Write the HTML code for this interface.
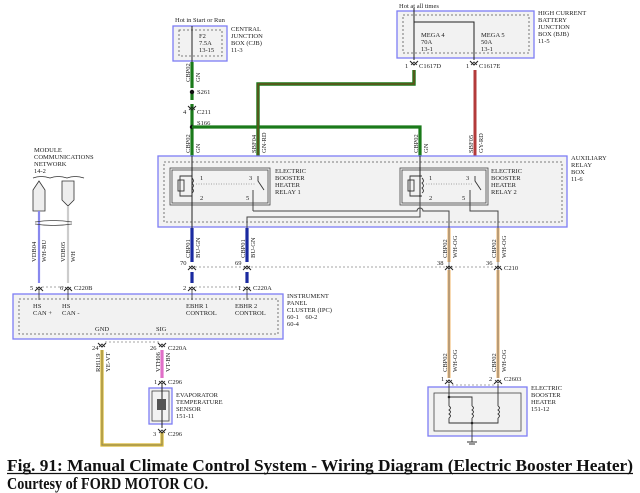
<!DOCTYPE html>
<html><head><meta charset="utf-8"><style>
html,body{margin:0;padding:0;background:#fff;width:640px;height:493px;overflow:hidden}
svg{display:block}
.t{font-family:"Liberation Serif",serif;font-size:6.5px;fill:#222}
.cap{font-family:"Liberation Serif",serif;font-weight:bold;font-size:17px;fill:#111}
</style></head><body>
<svg width="640" height="493" viewBox="0 0 640 493" xmlns="http://www.w3.org/2000/svg">
<defs>
<g id="cd"><path d="M-4,-3 L0,1 L4,-3" fill="none" stroke="#222" stroke-width="1"/><path d="M-3,1 L0,-2 L3,1" fill="none" stroke="#222" stroke-width="0.8"/></g>
<g id="cu"><path d="M-4,3 L0,-1 L4,3" fill="none" stroke="#222" stroke-width="1"/><path d="M-3,-1 L0,2 L3,-1" fill="none" stroke="#222" stroke-width="0.8"/></g>
</defs>

<!-- CJB -->
<text class="t" x="175" y="22">Hot in Start or Run</text>
<rect x="173" y="26" width="54" height="35" fill="#f2f2f2" stroke="#7d7df5" stroke-width="1.3"/>
<rect x="179" y="30" width="43" height="26" fill="none" stroke="#555" stroke-dasharray="2,2" stroke-width="0.8"/>
<line x1="192" y1="26" x2="192" y2="62" stroke="#222" stroke-width="1"/>
<text class="t" x="199" y="38">F2</text><text class="t" x="199" y="45">7.5A</text><text class="t" x="199" y="52">13-15</text>
<text class="t" x="231" y="31">CENTRAL</text><text class="t" x="231" y="38">JUNCTION</text><text class="t" x="231" y="45">BOX (CJB)</text><text class="t" x="231" y="52">11-3</text>

<!-- HCBJB -->
<text class="t" x="399" y="8">Hot at all times</text>
<rect x="397" y="11" width="137" height="47" fill="#f2f2f2" stroke="#7d7df5" stroke-width="1.3"/>
<rect x="403" y="15" width="126" height="38" fill="none" stroke="#555" stroke-dasharray="2,2" stroke-width="0.8"/>
<path d="M414,8 V60 M414,22 H474 V60" fill="none" stroke="#222" stroke-width="1"/>
<text class="t" x="421" y="37">MEGA 4</text><text class="t" x="421" y="44">70A</text><text class="t" x="421" y="51">13-1</text>
<text class="t" x="481" y="37">MEGA 5</text><text class="t" x="481" y="44">50A</text><text class="t" x="481" y="51">13-1</text>
<text class="t" x="538" y="15">HIGH CURRENT</text><text class="t" x="538" y="22">BATTERY</text><text class="t" x="538" y="29">JUNCTION</text><text class="t" x="538" y="36">BOX (BJB)</text><text class="t" x="538" y="43">11-5</text>
<use href="#cd" x="414" y="64"/><use href="#cd" x="474" y="64"/>
<text class="t" x="405" y="68">1</text><text class="t" x="419" y="68">C1617D</text>
<text class="t" x="466" y="68">1</text><text class="t" x="479" y="68">C1617E</text>

<!-- green wires -->
<line x1="192" y1="62" x2="192" y2="156" stroke="#1a7a1a" stroke-width="3.2"/>
<line x1="192" y1="88" x2="192" y2="92" stroke="#fff" stroke-width="4"/>
<line x1="192" y1="100" x2="192" y2="104" stroke="#fff" stroke-width="4"/>
<circle cx="192" cy="92" r="2.2" fill="#111"/><text class="t" x="197" y="94">S261</text>
<use href="#cd" x="192" y="109"/><text class="t" x="183" y="114">4</text><text class="t" x="197" y="114">C211</text>
<circle cx="192" cy="127" r="2.2" fill="#111"/><text class="t" x="197" y="125">S166</text>
<path d="M192,127 H420 V156" fill="none" stroke="#1a7a1a" stroke-width="3.2"/>
<path d="M258,156 V84 H414 V70" fill="none" stroke="#1a7a1a" stroke-width="3.4"/>
<path d="M258,156 V84 H414 V70" fill="none" stroke="#8a3a1a" stroke-width="1"/>
<line x1="475" y1="70" x2="475" y2="156" stroke="#b33a3a" stroke-width="3"/>
<g class="t" font-size="6">
<text transform="translate(190,82) rotate(-90)">CBP02</text><text transform="translate(200,82) rotate(-90)">GN</text>
<text transform="translate(190,153) rotate(-90)">CBP02</text><text transform="translate(200,153) rotate(-90)">GN</text>
<text transform="translate(256,153) rotate(-90)">SBF04</text><text transform="translate(266,153) rotate(-90)">GN-RD</text>
<text transform="translate(418,153) rotate(-90)">CBP02</text><text transform="translate(428,153) rotate(-90)">GN</text>
<text transform="translate(473,153) rotate(-90)">SBF05</text><text transform="translate(483,153) rotate(-90)">GY-RD</text>
</g>

<!-- Aux relay box -->
<rect x="158" y="156" width="409" height="71" fill="#f2f2f2" stroke="#7d7df5" stroke-width="1.3"/>
<rect x="164" y="162" width="398" height="60" fill="none" stroke="#555" stroke-dasharray="2,2" stroke-width="0.8"/>
<text class="t" x="571" y="160">AUXILIARY</text><text class="t" x="571" y="167">RELAY</text><text class="t" x="571" y="174">BOX</text><text class="t" x="571" y="181">11-6</text>
<g fill="none" stroke="#444" stroke-width="0.8">
<rect x="170" y="168" width="100" height="37"/><rect x="172" y="170" width="96" height="33"/>
<rect x="400" y="168" width="88" height="37"/><rect x="402" y="170" width="84" height="33"/>
</g>
<g fill="none" stroke="#333" stroke-width="0.9">
<path d="M192,176 H180 V196 H192"/><rect x="178" y="180" width="6" height="11"/>
<path d="M422,176 H410 V196 H422"/><rect x="408" y="180" width="6" height="11"/>
<path d="M192,178 q3,3 0,5 q3,3 0,5 q3,3 0,5"/><path d="M422,178 q3,3 0,5 q3,3 0,5 q3,3 0,5"/>
<path d="M258,176 V181 L264,190 M253,190 V211"/>
<path d="M475,176 V181 L481,190 M470,190 V211"/>
</g>
<line x1="196" y1="184" x2="256" y2="184" stroke="#888" stroke-dasharray="1,1.5" stroke-width="0.7"/>
<line x1="426" y1="184" x2="472" y2="184" stroke="#888" stroke-dasharray="1,1.5" stroke-width="0.7"/>
<line x1="192" y1="156" x2="192" y2="228" stroke="#222" stroke-width="1"/>
<line x1="420" y1="156" x2="420" y2="197" stroke="#222" stroke-width="1"/>
<path d="M253,211 H417 a3,3 0 0 1 6,0 H449 V230 M470,211 V211 M470,190 V211 H498 V230 M420,197 V217 H247 V230" fill="none" stroke="#444" stroke-width="1"/>
<text class="t" x="200" y="180">1</text><text class="t" x="200" y="200">2</text><text class="t" x="249" y="180">3</text><text class="t" x="246" y="200">5</text>
<text class="t" x="429" y="180">1</text><text class="t" x="429" y="200">2</text><text class="t" x="466" y="180">3</text><text class="t" x="462" y="200">5</text>
<text class="t" x="275" y="173">ELECTRIC</text><text class="t" x="275" y="180">BOOSTER</text><text class="t" x="275" y="187">HEATER</text><text class="t" x="275" y="194">RELAY 1</text>
<text class="t" x="491" y="173">ELECTRIC</text><text class="t" x="491" y="180">BOOSTER</text><text class="t" x="491" y="187">HEATER</text><text class="t" x="491" y="194">RELAY 2</text>

<!-- Below relay box -->
<line x1="192" y1="228" x2="192" y2="262" stroke="#1a2aa0" stroke-width="3.2"/>
<line x1="247" y1="228" x2="247" y2="262" stroke="#1a2aa0" stroke-width="3.2"/>
<line x1="192" y1="272" x2="192" y2="283" stroke="#1a2aa0" stroke-width="3.2"/>
<line x1="247" y1="272" x2="247" y2="283" stroke="#1a2aa0" stroke-width="3.2"/>
<g stroke="#f2c080" stroke-width="3.2"><line x1="449" y1="228" x2="449" y2="262"/><line x1="498" y1="228" x2="498" y2="262"/><line x1="449" y1="270" x2="449" y2="378"/><line x1="498" y1="270" x2="498" y2="378"/></g>
<g stroke="#666" stroke-width="0.8"><line x1="449" y1="228" x2="449" y2="378"/><line x1="498" y1="228" x2="498" y2="378"/></g>
<line x1="195" y1="267" x2="495" y2="267" stroke="#888" stroke-dasharray="2,2" stroke-width="0.8"/>
<use href="#cu" x="192" y="267"/><use href="#cu" x="247" y="267"/><use href="#cu" x="449" y="267"/><use href="#cu" x="498" y="267"/>
<text class="t" x="180" y="265">70</text><text class="t" x="235" y="265">69</text><text class="t" x="437" y="265">38</text><text class="t" x="486" y="265">36</text><text class="t" x="504" y="270">C210</text>
<g class="t" font-size="6">
<text transform="translate(190,258) rotate(-90)">CBP01</text><text transform="translate(200,258) rotate(-90)">BU-GN</text>
<text transform="translate(245,258) rotate(-90)">CBP01</text><text transform="translate(255,258) rotate(-90)">BU-GN</text>
<text transform="translate(447,258) rotate(-90)">CBP02</text><text transform="translate(457,258) rotate(-90)">WH-OG</text>
<text transform="translate(496,258) rotate(-90)">CBP02</text><text transform="translate(506,258) rotate(-90)">WH-OG</text>
<text transform="translate(447,372) rotate(-90)">CBP02</text><text transform="translate(457,372) rotate(-90)">WH-OG</text>
<text transform="translate(496,372) rotate(-90)">CBP02</text><text transform="translate(506,372) rotate(-90)">WH-OG</text>
</g>

<!-- Module network -->
<text class="t" x="34" y="152">MODULE</text><text class="t" x="34" y="159">COMMUNICATIONS</text><text class="t" x="34" y="166">NETWORK</text><text class="t" x="34" y="173">14-2</text>
<path d="M33,178 q8,-3 17,0 q8,-3 17,0 q8,-3 17,0" fill="none" stroke="#333" stroke-width="0.8"/>
<path d="M33,190 L39,181 L45,190 V211 H33 Z" fill="#eee" stroke="#333" stroke-width="0.8"/>
<path d="M62,181 H74 V200 L68,206 L62,200 Z" fill="#eee" stroke="#333" stroke-width="0.8"/>
<line x1="39" y1="211" x2="39" y2="283" stroke="#8888ee" stroke-width="2.2"/>
<line x1="68" y1="206" x2="68" y2="283" stroke="#ccc" stroke-width="2.2"/>
<path d="M35,222 q18,-3 37,0 M35,224 q18,3 37,0" fill="none" stroke="#444" stroke-width="0.8"/>
<g class="t" font-size="6">
<text transform="translate(36,262) rotate(-90)">VDB04</text><text transform="translate(46,262) rotate(-90)">WH-BU</text>
<text transform="translate(65,262) rotate(-90)">VDB05</text><text transform="translate(75,262) rotate(-90)">WH</text>
</g>
<use href="#cu" x="39" y="288"/><use href="#cu" x="68" y="288"/>
<text class="t" x="30" y="290">5</text><text class="t" x="60" y="290">6</text><text class="t" x="74" y="290">C220B</text>
<line x1="42" y1="287" x2="65" y2="287" stroke="#888" stroke-dasharray="2,2" stroke-width="0.8"/>
<use href="#cu" x="192" y="288"/><use href="#cu" x="247" y="288"/>
<text class="t" x="183" y="290">2</text><text class="t" x="238" y="290">1</text><text class="t" x="253" y="290">C220A</text>
<line x1="195" y1="287" x2="244" y2="287" stroke="#888" stroke-dasharray="2,2" stroke-width="0.8"/>

<!-- IPC -->
<rect x="13" y="294" width="270" height="45" fill="#f2f2f2" stroke="#7d7df5" stroke-width="1.3"/>
<rect x="19" y="299" width="259" height="35" fill="none" stroke="#555" stroke-dasharray="2,2" stroke-width="0.8"/>
<g stroke="#333" stroke-width="0.8"><line x1="39" y1="290" x2="39" y2="300"/><line x1="68" y1="290" x2="68" y2="300"/><line x1="192" y1="290" x2="192" y2="300"/><line x1="247" y1="290" x2="247" y2="300"/></g>
<text class="t" x="33" y="308">HS</text><text class="t" x="33" y="315">CAN +</text>
<text class="t" x="62" y="308">HS</text><text class="t" x="62" y="315">CAN -</text>
<text class="t" x="186" y="308">EBHR 1</text><text class="t" x="186" y="315">CONTROL</text>
<text class="t" x="235" y="308">EBHR 2</text><text class="t" x="235" y="315">CONTROL</text>
<text class="t" x="95" y="331">GND</text><text class="t" x="156" y="331">SIG</text>
<text class="t" x="287" y="298">INSTRUMENT</text><text class="t" x="287" y="305">PANEL</text><text class="t" x="287" y="312">CLUSTER (IPC)</text><text class="t" x="287" y="319">60-1&#160;&#160;&#160; 60-2</text><text class="t" x="287" y="326">60-4</text>

<!-- GND/SIG -->
<use href="#cd" x="102" y="346"/><use href="#cd" x="162" y="346"/>
<line x1="105" y1="342" x2="159" y2="342" stroke="#888" stroke-dasharray="2,2" stroke-width="0.8"/>
<text class="t" x="92" y="350">24</text><text class="t" x="150" y="350">26</text><text class="t" x="168" y="350">C220A</text>
<path d="M102,350 V445 H162 V432" fill="none" stroke="#d9b830" stroke-width="3.2"/>
<path d="M102,350 V445 H162 V432" fill="none" stroke="#777" stroke-width="0.7"/>
<line x1="162" y1="350" x2="162" y2="378" stroke="#e070c8" stroke-width="3.2"/>
<g class="t" font-size="6">
<text transform="translate(100,372) rotate(-90)">RH119</text><text transform="translate(110,372) rotate(-90)">YE-VT</text>
<text transform="translate(160,372) rotate(-90)">VTH06</text><text transform="translate(170,372) rotate(-90)">VT-BN</text>
</g>
<use href="#cu" x="162" y="382"/><text class="t" x="154" y="384">1</text><text class="t" x="168" y="384">C296</text>
<rect x="149" y="388" width="23" height="36" fill="#f2f2f2" stroke="#7d7df5" stroke-width="1.3"/>
<rect x="152" y="391" width="17" height="30" fill="none" stroke="#444" stroke-width="0.8"/>
<line x1="162" y1="384" x2="162" y2="428" stroke="#222" stroke-width="1"/>
<rect x="157" y="399" width="9" height="11" fill="#555"/>
<text class="t" x="176" y="397">EVAPORATOR</text><text class="t" x="176" y="404">TEMPERATURE</text><text class="t" x="176" y="411">SENSOR</text><text class="t" x="176" y="418">151-11</text>
<use href="#cd" x="162" y="432"/><text class="t" x="153" y="436">3</text><text class="t" x="168" y="436">C296</text>

<!-- Heater -->
<use href="#cu" x="449" y="381"/><use href="#cu" x="498" y="381"/>
<text class="t" x="441" y="381">1</text><text class="t" x="489" y="381">2</text><text class="t" x="504" y="381">C2603</text>
<line x1="452" y1="385" x2="495" y2="385" stroke="#888" stroke-dasharray="2,2" stroke-width="0.8"/>
<rect x="428" y="387" width="99" height="49" fill="#f2f2f2" stroke="#7d7df5" stroke-width="1.3"/>
<rect x="434" y="393" width="87" height="38" fill="none" stroke="#444" stroke-width="0.8"/>
<g fill="none" stroke="#333" stroke-width="0.9">
<path d="M449,384 V406 M449,397 H472 V406 M498,384 V406"/>
<path d="M449,406 q3,2 0,4 q3,2 0,4 q3,2 0,4 M472,406 q3,2 0,4 q3,2 0,4 q3,2 0,4 M498,406 q3,2 0,4 q3,2 0,4 q3,2 0,4"/>
<path d="M449,418 V423 H498 V418 M472,418 V442 M467,442 H477 M469,444 H475"/>
</g>
<circle cx="449" cy="397" r="1.3" fill="#222"/><circle cx="472" cy="423" r="1.3" fill="#222"/>
<text class="t" x="531" y="390">ELECTRIC</text><text class="t" x="531" y="397">BOOSTER</text><text class="t" x="531" y="404">HEATER</text><text class="t" x="531" y="411">151-12</text>

<!-- Caption -->
<text class="cap" x="7" y="471" textLength="626" lengthAdjust="spacingAndGlyphs">Fig. 91: Manual Climate Control System - Wiring Diagram (Electric Booster Heater)</text>
<line x1="7" y1="473.5" x2="633" y2="473.5" stroke="#111" stroke-width="1.2"/>
<text class="cap" x="7" y="489" textLength="201" lengthAdjust="spacingAndGlyphs">Courtesy of FORD MOTOR CO.</text>
</svg>
</body></html>
